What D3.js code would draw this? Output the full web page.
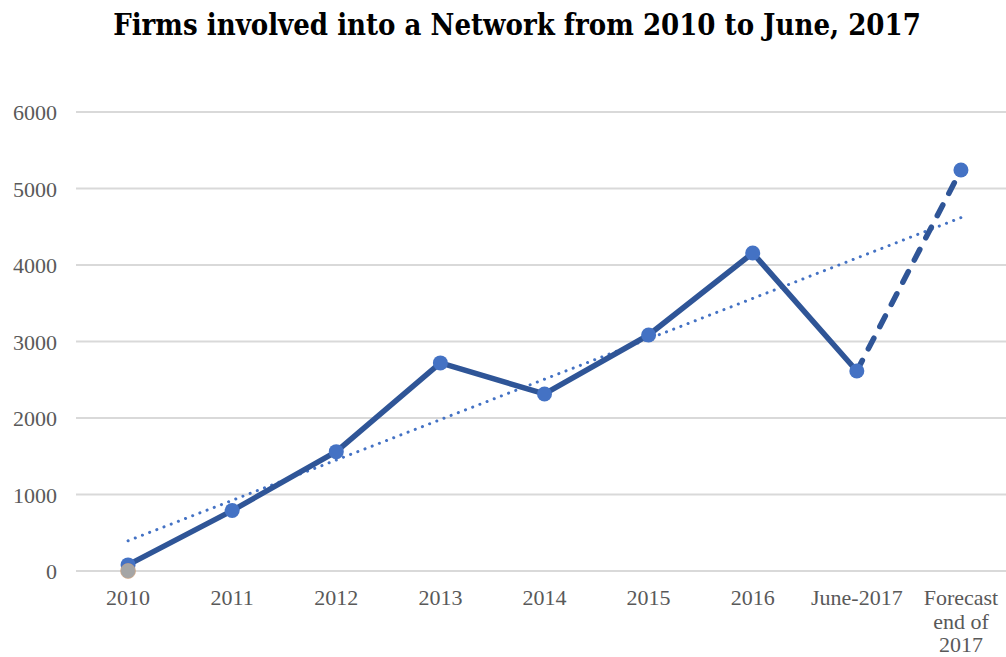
<!DOCTYPE html>
<html>
<head>
<meta charset="utf-8">
<script src="https://cdn.jsdelivr.net/npm/d3@7/dist/d3.min.js"></script>
<style>
  html, body { margin: 0; padding: 0; background: #fff; }
  svg { display: block; }
</style>
</head>
<body>
<svg id="chart" width="1006" height="657"></svg>
<script>
// Categories along the x axis (the last label wraps onto three lines)
const categories = ["2010", "2011", "2012", "2013", "2014", "2015", "2016", "June-2017", "Forecast end of 2017"];
const categoryLines = [["2010"], ["2011"], ["2012"], ["2013"], ["2014"], ["2015"], ["2016"], ["June-2017"], ["Forecast", "end of", "2017"]];
// Number of firms involved into the network
const firms = [80, 790, 1560, 2720, 2314, 3085, 4157, 2614, 5242];
// Second series: only the 2010 starting point
const baseline = [0];
const yTicks = [0, 1000, 2000, 3000, 4000, 5000, 6000];

const svg = d3.select("#chart");
const W = 1006, H = 657;
const margin = { left: 76, right: -7, top: 112, bottom: 86 };
const labelFont = "'Liberation Serif', serif";

const x = d3.scaleBand()
  .domain(categories)
  .range([margin.left, W - margin.right]);
const cx = d => x(d) + x.bandwidth() / 2;

const y = d3.scaleLinear()
  .domain([0, 6000])
  .range([H - margin.bottom, margin.top]);

// Title
svg.append("text")
  .attr("x", 517).attr("y", 35)
  .attr("text-anchor", "middle")
  .attr("font-family", "'DejaVu Serif Condensed', 'DejaVu Serif', serif")
  .attr("font-stretch", "condensed")
  .attr("font-weight", "bold")
  .attr("font-size", 29)
  .attr("fill", "#000")
  .text("Firms involved into a Network from 2010 to June, 2017");

// Horizontal gridlines
svg.append("g")
  .selectAll("line")
  .data(yTicks)
  .join("line")
  .attr("x1", margin.left).attr("x2", W)
  .attr("y1", d => y(d)).attr("y2", d => y(d))
  .attr("stroke", "#D9D9D9")
  .attr("stroke-width", 2);

// Y axis labels
const yAxis = d3.axisLeft(y).tickValues(yTicks).tickFormat(d3.format("d")).tickSize(0).tickPadding(0);
svg.append("g")
  .attr("transform", `translate(57,0)`)
  .call(yAxis)
  .call(g => g.select(".domain").remove())
  .call(g => g.selectAll("text")
    .attr("dy", "0.36em")
    .attr("font-family", labelFont)
    .attr("font-size", 22)
    .attr("fill", "#595959"));

// X axis labels
const xLabels = svg.append("g")
  .selectAll("text")
  .data(categories)
  .join("text")
  .attr("x", d => cx(d))
  .attr("y", 605)
  .attr("text-anchor", "middle")
  .attr("font-family", labelFont)
  .attr("font-size", 22)
  .attr("fill", "#595959");
xLabels.selectAll("tspan")
  .data((d, i) => categoryLines[i])
  .join("tspan")
  .attr("x", function () { return d3.select(this.parentNode).attr("x"); })
  .attr("dy", (d, i) => i === 0 ? 0 : 23.5)
  .text(d => d);

// Linear trendline fitted over all points
const n = firms.length;
const xs = d3.range(1, n + 1);
const mx = d3.mean(xs), my = d3.mean(firms);
const slope = d3.sum(xs, (v, i) => (v - mx) * (firms[i] - my)) / d3.sum(xs, v => (v - mx) ** 2);
const intercept = my - slope * mx;
svg.append("line")
  .attr("x1", cx(categories[0])).attr("y1", y(intercept + slope * 1))
  .attr("x2", cx(categories[n - 1])).attr("y2", y(intercept + slope * n))
  .attr("stroke", "#4472C4")
  .attr("stroke-width", 3)
  .attr("stroke-linecap", "round")
  .attr("stroke-dasharray", "0.1 7.6");

const line = d3.line()
  .x((d, i) => cx(categories[i]))
  .y(d => y(d));

// Solid part of the series (actual data)
const actual = firms.slice(0, n - 1);
svg.append("path")
  .datum(actual)
  .attr("d", line)
  .attr("fill", "none")
  .attr("stroke", "#2F5597")
  .attr("stroke-width", 5.5)
  .attr("stroke-linejoin", "round");

// Dashed forecast segment
svg.append("path")
  .datum(firms.slice(n - 2))
  .attr("d", d3.line().x((d, i) => cx(categories[n - 2 + i])).y(d => y(d)))
  .attr("fill", "none")
  .attr("stroke", "#2F5597")
  .attr("stroke-width", 5.5)
  .attr("stroke-linecap", "round")
  .attr("stroke-dasharray", "12 13");

// Markers
svg.append("g")
  .selectAll("circle")
  .data(firms)
  .join("circle")
  .attr("cx", (d, i) => cx(categories[i]))
  .attr("cy", d => y(d))
  .attr("r", 7.5)
  .attr("fill", "#4472C4");

svg.append("g")
  .selectAll("circle")
  .data(baseline)
  .join("circle")
  .attr("cx", (d, i) => cx(categories[i]))
  .attr("cy", d => y(d))
  .attr("r", 7.5)
  .attr("fill", "#A5A5A5")
  .attr("stroke", "#D9A47A")
  .attr("stroke-width", 0.6);
</script>
</body>
</html>
